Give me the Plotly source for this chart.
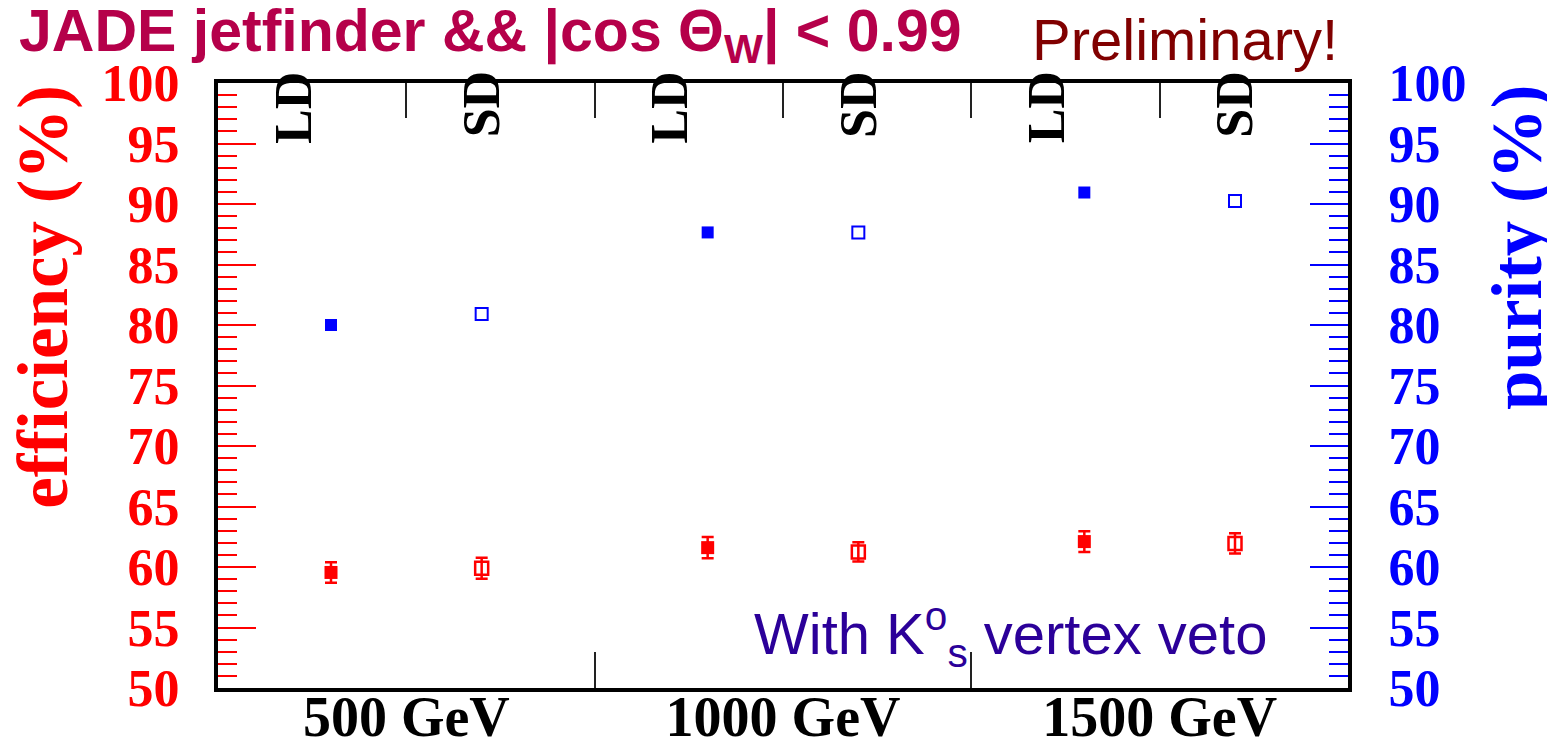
import plotly.graph_objects as go

# ---- data ----
groups = ["500 GeV", "1000 GeV", "1500 GeV"]
group_centers = [0.5, 1.5, 2.5]
group_edges = [1, 2]
top_ticks = [0.5, 1, 1.5, 2, 2.5]
det_labels = ["LD", "SD"]
ld_label_x = [0.2, 1.2, 2.2]
sd_label_x = [0.7, 1.7, 2.7]

x_ld = [0.3, 1.3, 2.3]
x_sd = [0.7, 1.7, 2.7]
eff_ld = [59.55, 61.6, 62.1]
eff_ld_err = [0.85, 0.87, 0.85]
eff_sd = [59.9, 61.25, 61.95]
eff_sd_err = [0.87, 0.80, 0.83]
pur_ld = [80.0, 87.65, 90.95]
pur_sd = [80.9, 87.65, 90.25]

y_ticks = list(range(50, 101, 5))

RED = "#FF0000"
BLUE = "#0000FF"
SERIF = "Liberation Serif"
SANS = "Liberation Sans"

fig = go.Figure()

fig.add_trace(go.Scatter(
    x=x_ld, y=eff_ld, mode="markers", xaxis="x", yaxis="y",
    marker=dict(symbol="square", size=13, color=RED),
    error_y=dict(type="data", array=eff_ld_err, color=RED, thickness=2.5, width=6),
    showlegend=False))
fig.add_trace(go.Scatter(
    x=x_sd, y=eff_sd, mode="markers", xaxis="x", yaxis="y",
    marker=dict(symbol="square-open", size=13, color=RED, line=dict(width=2.5, color=RED)),
    error_y=dict(type="data", array=eff_sd_err, color=RED, thickness=2.5, width=6),
    showlegend=False))
fig.add_trace(go.Scatter(
    x=x_ld, y=pur_ld, mode="markers", xaxis="x2", yaxis="y2",
    marker=dict(symbol="square", size=12, color=BLUE),
    showlegend=False))
fig.add_trace(go.Scatter(
    x=x_sd, y=pur_sd, mode="markers", xaxis="x2", yaxis="y2",
    marker=dict(symbol="square-open", size=12, color=BLUE, line=dict(width=2, color=BLUE)),
    showlegend=False))

annotations = []
# title texts
annotations.append(dict(
    text="JADE jetfinder &amp;&amp; |cos \u0398<sub>W</sub>| &lt; 0.99",
    xref="paper", yref="paper", x=-0.178, y=1.080, xanchor="left", yanchor="middle",
    showarrow=False, font=dict(family=SANS, size=59, color="#B5004A", weight="bold")))
annotations.append(dict(
    text="Preliminary!",
    xref="paper", yref="paper", x=0.993, y=1.072, xanchor="right", yanchor="middle",
    showarrow=False, font=dict(family=SANS, size=58, color="#800000")))
annotations.append(dict(
    text="With K<sup>o</sup><sub>s</sub> vertex veto",
    xref="paper", yref="paper", x=0.473, y=0.088, xanchor="left", yanchor="middle",
    showarrow=False, font=dict(family=SANS, size=58, color="#2B0099")))
# axis titles
annotations.append(dict(
    text="efficiency (%)", textangle=-90,
    xref="paper", yref="paper", x=-0.155, y=1.0, xanchor="center", yanchor="top",
    showarrow=False, font=dict(family=SERIF, size=71, color=RED, weight="bold")))
annotations.append(dict(
    text="purity (%)", textangle=-90,
    xref="paper", yref="paper", x=1.150, y=1.0, xanchor="center", yanchor="top",
    showarrow=False, font=dict(family=SERIF, size=71, color=BLUE, weight="bold")))
# LD / SD labels
for xs, lab in ((ld_label_x, det_labels[0]), (sd_label_x, det_labels[1])):
    for xv in xs:
        annotations.append(dict(
            text=lab, textangle=-90, xref="x", yref="paper", x=xv, y=1.022,
            xanchor="center", yanchor="top", showarrow=False,
            font=dict(family=SERIF, size=52, color="black", weight="bold")))

fig.update_layout(
    width=1547, height=741,
    margin=dict(l=218, r=199, t=83, b=53),
    paper_bgcolor="white", plot_bgcolor="white",
    showlegend=False,
    annotations=annotations,
    xaxis=dict(
        range=[0, 3], tickmode="array", tickvals=group_centers, ticktext=groups,
        ticks="", showgrid=False, zeroline=False, automargin=False,
        showline=True, linecolor="black", linewidth=4,
        tickfont=dict(family=SERIF, size=56, color="black", weight="bold"),
        ticklabelstandoff=-23,
        minor=dict(tickmode="array", tickvals=group_edges, ticks="inside",
                   ticklen=36, tickwidth=1.5, tickcolor="#222222", showgrid=False),
    ),
    xaxis2=dict(
        range=[0, 3], overlaying="x", side="top", anchor="y", automargin=False,
        tickmode="array", tickvals=top_ticks, ticks="inside", ticklen=35,
        tickwidth=1.5, tickcolor="#222222", showticklabels=False,
        showgrid=False, zeroline=False,
        showline=True, linecolor="black", linewidth=4,
    ),
    yaxis=dict(
        range=[50, 100], tickmode="array", tickvals=y_ticks, automargin=False,
        ticks="inside", ticklen=38, tickwidth=2, tickcolor=RED,
        showgrid=False, zeroline=False,
        showline=True, linecolor="black", linewidth=4,
        tickfont=dict(family=SERIF, size=52, color=RED, weight="bold"),
        ticklabelstandoff=24,
        minor=dict(dtick=1, ticks="inside", ticklen=19, tickwidth=2,
                   tickcolor=RED, showgrid=False),
    ),
    yaxis2=dict(
        range=[50, 100], overlaying="y", side="right", anchor="x", automargin=False,
        tickmode="array", tickvals=y_ticks,
        ticks="inside", ticklen=38, tickwidth=2, tickcolor=BLUE,
        showgrid=False, zeroline=False,
        showline=True, linecolor="black", linewidth=4,
        tickfont=dict(family=SERIF, size=52, color=BLUE, weight="bold"),
        ticklabelstandoff=26,
        minor=dict(dtick=1, ticks="inside", ticklen=19, tickwidth=2,
                   tickcolor=BLUE, showgrid=False),
    ),
)

fig.write_html("out.html", config={"displayModeBar": False},
               post_script="document.body.style.margin='0px';")
